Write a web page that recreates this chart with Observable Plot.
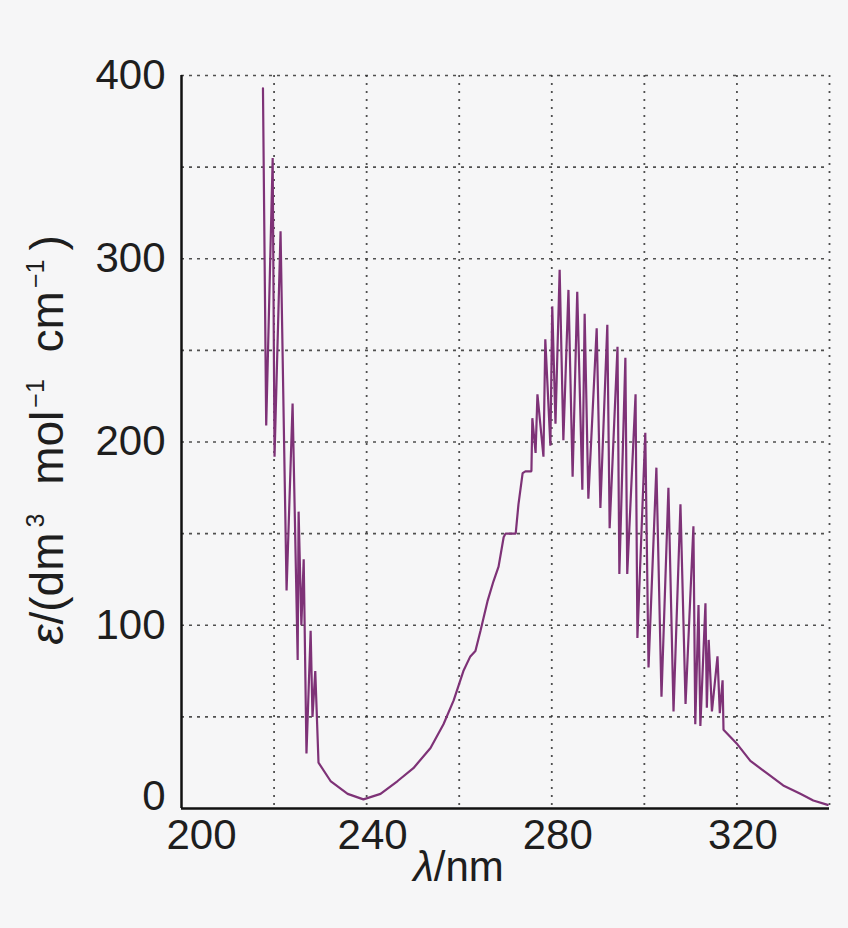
<!DOCTYPE html>
<html>
<head>
<meta charset="utf-8">
<script src="https://cdn.jsdelivr.net/npm/d3@7"></script>
<script src="https://cdn.jsdelivr.net/npm/@observablehq/plot@0.6"></script>
<style>
  html, body { margin: 0; padding: 0; background: #f6f6f7; }
  #chart { width: 848px; height: 928px; }
</style>
</head>
<body>
<div id="chart"></div>
<script>
// Wavelength (nm) and molar absorption coefficient
const wavelength = [
  217.6, 218.3, 219.7, 220.1, 221.4, 222.7, 224.0, 225.1, 225.3, 225.9,
  226.4, 227.0, 227.9, 228.3, 228.9, 229.6,
  232.2, 235.9, 239.3, 243.0, 246.7, 250.1, 253.8, 256.6, 258.8, 260.9,
  262.4, 263.5, 264.6, 266.1, 267.4, 268.5, 269.6, 270.0, 272.2, 272.8,
  273.7, 274.3, 275.6,
  275.8, 276.5, 276.9, 278.2, 278.6, 279.7, 280.1, 280.8, 281.7, 282.5,
  283.6, 284.5, 285.5, 286.6, 287.1, 287.9, 289.7, 290.5, 292.0, 292.5,
  294.2, 294.6, 295.9, 296.3, 298.1, 298.5, 300.2, 300.9, 302.6, 303.7,
  305.2, 306.3, 307.8, 308.9, 310.6, 311.0, 311.7, 312.1, 313.2, 313.5,
  313.9, 314.6, 315.8, 316.3, 316.9, 317.1,
  320.1, 322.9, 326.6, 330.0, 333.7, 336.5, 339.6
];
const epsilon = [
  393, 209, 355, 192, 315, 119, 221, 81, 162, 100,
  136, 30, 97, 50, 75, 25,
  15, 8, 5, 8, 15, 22, 33, 46, 59, 75,
  83, 86, 97, 113, 124, 132, 148, 150, 150, 166,
  183, 184, 184,
  213, 194, 226, 192, 256, 198, 274, 210, 294, 201,
  283, 181, 282, 174, 270, 169, 262, 164, 264, 153,
  252, 128, 246, 128, 226, 93, 205, 77, 186, 61,
  175, 53, 166, 57, 154, 46, 111, 45, 112, 55,
  92, 53, 83, 52, 70, 43,
  35, 26, 19, 12.6, 8, 4.4, 2
];
const xTickLabels = [200, 240, 280, 320];
const yTickLabels = [0, 100, 200, 300, 400];
const xGrid = [220, 240, 260, 280, 300, 320, 340];
const yGrid = [50, 100, 150, 200, 250, 300, 350, 400];
const xLabel = "λ/nm";
const yLabel = "ε/(dm3 mol−1 cm−1)";
// rich-text pieces of the axis titles (italic symbol, superscript exponents)
const xLabelParts = [{t: "λ", italic: true}, {t: "/nm"}];
const yLabelParts = [
  {t: "ε", italic: true}, {t: "/(dm"}, {t: "3", sup: true, dx: 5},
  {t: " mol", dx: 16}, {t: "−1", sup: true, dx: 3},
  {t: " cm", dx: 14}, {t: "−1", sup: true, dx: 3}, {t: ")", dx: 9}
];

const spectrum = wavelength.map((w, i) => ({w, e: epsilon[i]}));
const tickFont = 42;

const chart = Plot.plot({
  width: 848,
  height: 928,
  marginLeft: 181,
  marginRight: 19,
  marginTop: 75,
  marginBottom: 120,
  style: {background: "#f6f6f7", fontFamily: "'Liberation Sans', Arial, sans-serif", color: "#1e1e1e"},
  x: {domain: [200, 340]},
  y: {domain: [0, 400]},
  marks: [
    Plot.gridX(xGrid, {stroke: "#333", strokeOpacity: 0.85, strokeWidth: 1.8, strokeDasharray: "2,6"}),
    Plot.gridY(yGrid, {stroke: "#333", strokeOpacity: 0.85, strokeWidth: 1.6, strokeDasharray: "3,5"}),
    Plot.axisX(xTickLabels.slice(0, 1), {tickSize: 0, tickPadding: 11, fontSize: tickFont, label: null, dx: 20}),
    Plot.axisX(xTickLabels.slice(1), {tickSize: 0, tickPadding: 11, fontSize: tickFont, label: null, dx: 6}),
    Plot.axisY(yTickLabels.slice(0, 1), {tickSize: 0, tickPadding: 16, fontSize: tickFont, label: null, dy: -12}),
    Plot.axisY(yTickLabels.slice(1), {tickSize: 0, tickPadding: 16, fontSize: tickFont, label: null}),
    Plot.line(spectrum, {x: "w", y: "e", stroke: "#7e3277", strokeWidth: 2.2, strokeLinejoin: "miter"}),
    Plot.ruleX([200], {stroke: "#111", strokeWidth: 2.5}),
    Plot.ruleY([0], {stroke: "#111", strokeWidth: 2.5}),
    Plot.text([xLabel], {frameAnchor: "bottom", textAnchor: "middle", dx: -47, dy: 72, fontSize: 42, fill: "#1e1e1e"}),
    Plot.text([yLabel], {frameAnchor: "left", textAnchor: "middle", rotate: -90, dx: -133, dy: -2, fontSize: 46, fill: "#1e1e1e"})
  ]
});

// turn the axis titles into rich text (italic symbols, superscripts)
const ns = "http://www.w3.org/2000/svg";
function richify(label, parts, supSize, supShift) {
  const el = Array.from(chart.querySelectorAll("text")).find(t => t.textContent === label);
  if (!el) return;
  el.textContent = "";
  let shifted = false;
  for (const p of parts) {
    const ts = document.createElementNS(ns, "tspan");
    ts.textContent = p.t;
    if (p.italic) ts.setAttribute("font-style", "italic");
    let dy = 0;
    if (p.sup && !shifted) { dy = -supShift; shifted = true; }
    else if (!p.sup && shifted) { dy = supShift; shifted = false; }
    if (dy) ts.setAttribute("dy", dy);
    if (p.dx) ts.setAttribute("dx", p.dx);
    if (p.sup) ts.setAttribute("font-size", supSize);
    el.appendChild(ts);
  }
}
richify(xLabel, xLabelParts, 24, 16);
richify(yLabel, yLabelParts, 25, 19);

document.getElementById("chart").appendChild(chart);
</script>
</body>
</html>
